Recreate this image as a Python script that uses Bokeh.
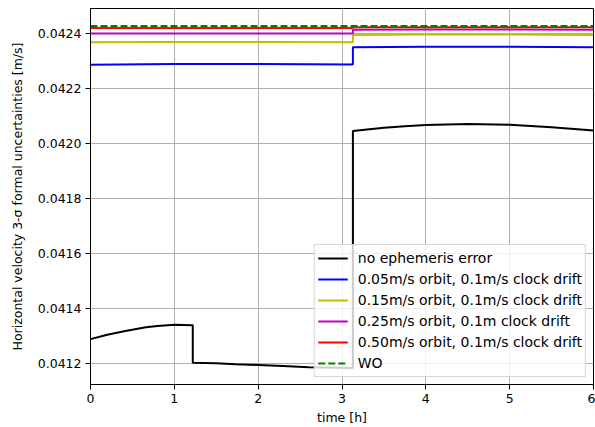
from bokeh.plotting import figure
from bokeh.models import Range1d, FixedTicker, PrintfTickFormatter
from bokeh.embed import file_html
from bokeh.resources import INLINE

# ---- data ----
t_black = [0.0, 0.2, 0.4, 0.66, 0.8, 1.0, 1.22, 1.22, 1.5, 1.73, 2.0, 2.3, 2.6, 3.13,
           3.13, 3.3, 3.5, 3.75, 4.0, 4.5, 5.0, 5.5, 6.0]
v_black = [0.041287, 0.041303, 0.041316, 0.041330, 0.041335, 0.041339, 0.041338, 0.041201,
           0.041199, 0.041196, 0.041193, 0.041189, 0.041185, 0.041182,
           0.042044, 0.042050, 0.042056, 0.042062, 0.042066, 0.042070, 0.042067, 0.042058, 0.042046]

t_step = [0.0, 1.0, 2.0, 3.13, 3.13, 4.0, 5.0, 6.0]
v_blue = [0.042285, 0.042288, 0.042288, 0.042286, 0.042349, 0.042351, 0.042351, 0.042349]
v_yellow = [0.042367, 0.042368, 0.042368, 0.042367, 0.042394, 0.042395, 0.042395, 0.042394]
v_magenta = [0.042399, 0.042399, 0.042399, 0.042399, 0.042413, 0.042414, 0.042414, 0.042413]
v_red = [0.042419, 0.042419, 0.042419, 0.042419, 0.042422, 0.042422, 0.042422, 0.042422]

t_wo = [0.0, 6.0]
v_wo = [0.0424266, 0.0424266]

labels = ["no ephemeris error",
          "0.05m/s orbit, 0.1m/s clock drift",
          "0.15m/s orbit, 0.1m/s clock drift",
          "0.25m/s orbit, 0.1m clock drift",
          "0.50m/s orbit, 0.1m/s clock drift",
          "WO"]

x_ticks = [0, 1, 2, 3, 4, 5, 6]
y_ticks = [0.0412, 0.0414, 0.0416, 0.0418, 0.0420, 0.0422, 0.0424]

FONT = "DejaVu Sans"
FS = "12.5px"

p = figure(width=595, height=427, output_backend="svg", toolbar_location=None,
           x_range=Range1d(0, 6), y_range=Range1d(0.041122, 0.04249),
           min_border_left=90, min_border_right=2, min_border_top=8, min_border_bottom=43)

p.background_fill_color = "white"
p.border_fill_color = "white"
p.outline_line_color = "black"
p.outline_line_width = 1
p.outline_line_alpha = 1

lw = 2
p.line(t_black, v_black, color="black", line_width=lw, legend_label=labels[0])
p.line(t_step, v_blue, color="#0000ff", line_width=lw, legend_label=labels[1])
p.line(t_step, v_yellow, color="#bfbf00", line_width=lw, legend_label=labels[2])
p.line(t_step, v_magenta, color="#bf00bf", line_width=lw, legend_label=labels[3])
p.line(t_step, v_red, color="#ff0000", line_width=lw, legend_label=labels[4])
p.line(t_wo, v_wo, color="#008000", line_width=lw, line_dash="7 3", legend_label=labels[5])

# axes
p.xaxis.ticker = FixedTicker(ticks=x_ticks)
p.yaxis.ticker = FixedTicker(ticks=y_ticks)
p.yaxis.formatter = PrintfTickFormatter(format="%.4f")
p.xaxis.axis_label = "time [h]"
p.yaxis.axis_label = "Horizontal velocity 3-σ formal uncertainties [m/s]"
for ax in (p.xaxis, p.yaxis):
    ax.axis_label_text_font = FONT
    ax.axis_label_text_font_size = FS
    ax.axis_label_text_font_style = "normal"
    ax.axis_label_text_color = "black"
    ax.major_label_text_font = FONT
    ax.major_label_text_font_size = FS
    ax.major_label_text_color = "black"
    ax.axis_line_color = "black"
    ax.axis_line_width = 1
    ax.major_tick_line_color = "black"
    ax.major_tick_line_width = 1
    ax.major_tick_out = 5
    ax.major_tick_in = 0
    ax.minor_tick_line_color = None
    ax.major_label_standoff = 4
p.xaxis.axis_label_standoff = 4
p.yaxis.axis_label_standoff = 10

p.xgrid.grid_line_color = "#b0b0b0"
p.ygrid.grid_line_color = "#b0b0b0"
p.xgrid.grid_line_width = 1
p.ygrid.grid_line_width = 1

leg = p.legend[0]
leg.location = "bottom_right"
leg.margin = 7
leg.padding = 3
leg.spacing = 1
leg.label_height = 20
leg.glyph_height = 20
leg.glyph_width = 30
leg.label_standoff = 10
leg.label_text_font = FONT
leg.label_text_font_size = "14px"
leg.label_text_color = "black"
leg.background_fill_color = "white"
leg.background_fill_alpha = 0.8
leg.border_line_color = "#cccccc"
leg.border_line_width = 1
leg.border_line_alpha = 0.8

open("out.html", "w").write(file_html(p, INLINE))
